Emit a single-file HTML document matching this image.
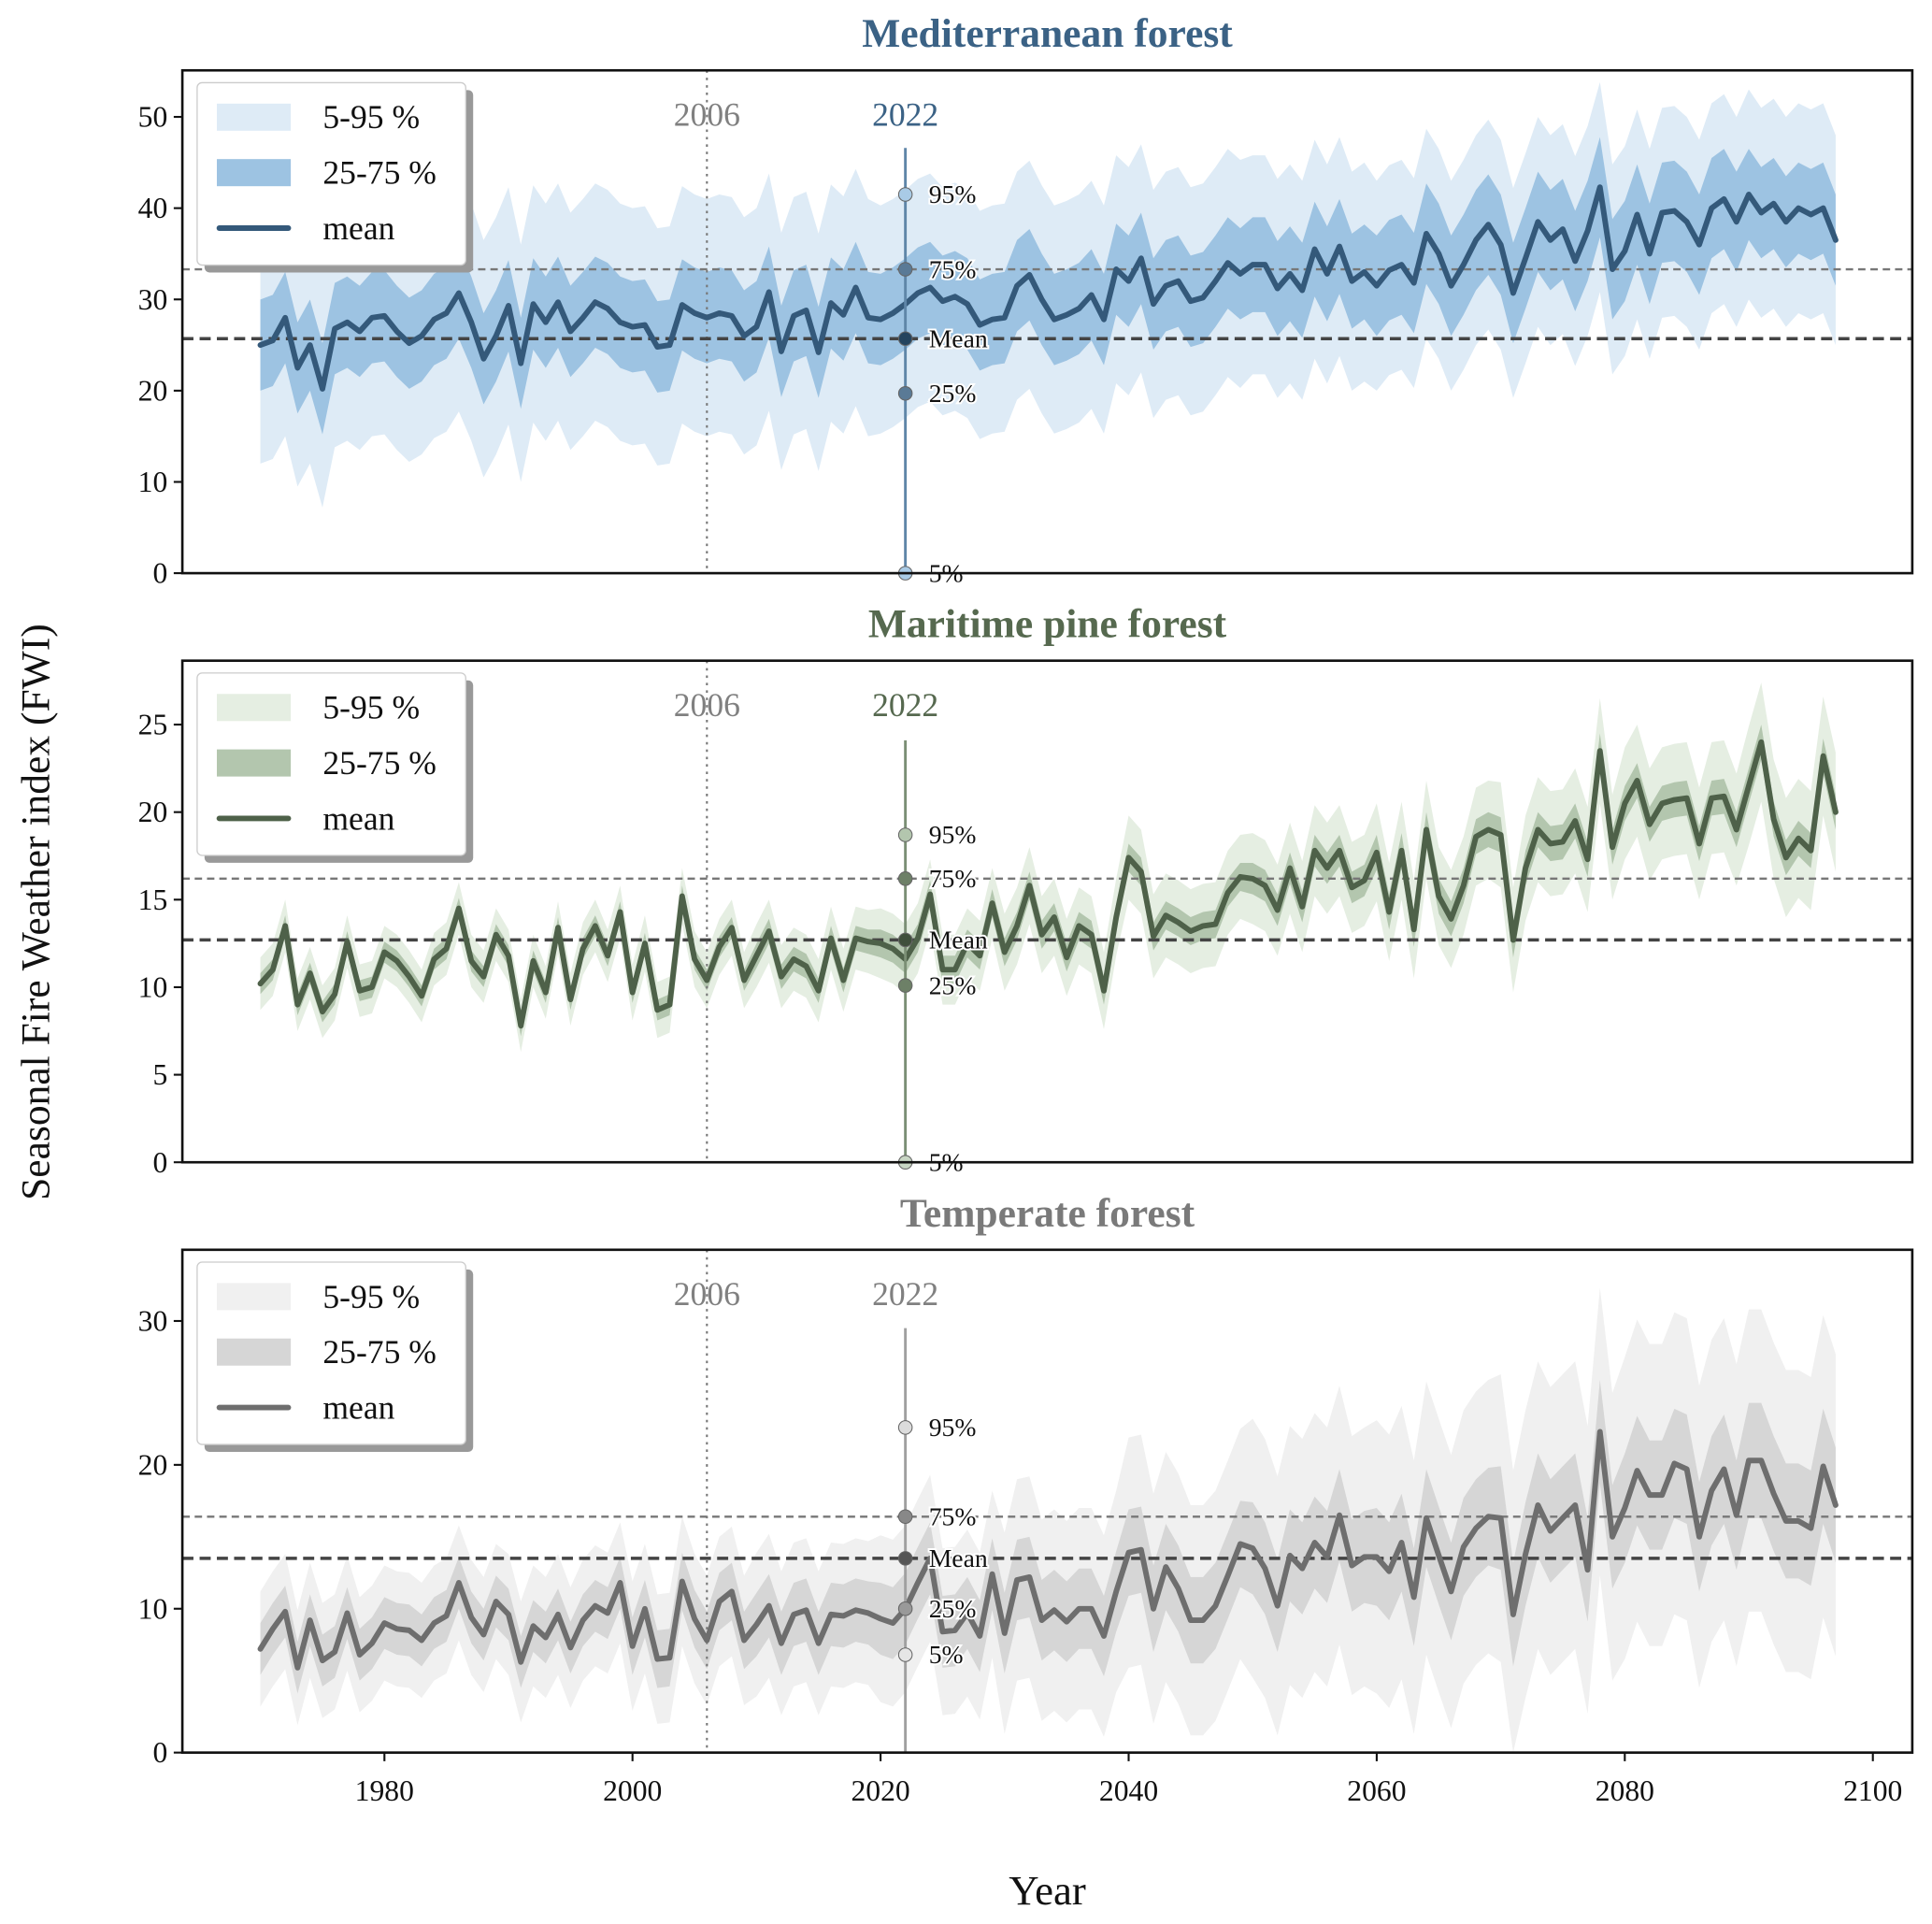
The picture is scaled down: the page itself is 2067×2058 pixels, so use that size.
<!DOCTYPE html>
<html><head><meta charset="utf-8">
<style>
html,body{margin:0;padding:0;background:#fff;}
svg{display:block;font-family:"Liberation Serif",serif;}
</style></head>
<body>
<svg id="chart" width="2067" height="2058" viewBox="0 0 1568 1561" xmlns="http://www.w3.org/2000/svg">
<rect x="0" y="0" width="1568" height="1561" fill="#fff"/>
<text x="0" y="0" transform="translate(40,740) rotate(-90)" text-anchor="middle" font-size="33" fill="#111">Seasonal Fire Weather index (FWI)</text>
<text x="850" y="1545" text-anchor="middle" font-size="34" fill="#111">Year</text>
</svg>
<script>
const years = [];
for (let y = 1970; y <= 2097; y++) years.push(y);
const meanMed = [25,25.5,28,22.5,25,20.2,26.8,27.5,26.5,28,28.2,26.5,25.2,26,27.8,28.5,30.7,27.5,23.5,26,29.3,23,29.5,27.5,29.7,26.5,28,29.7,29,27.5,27,27.2,24.8,25,29.4,28.5,28,28.5,28.2,26,27,30.8,24.3,28.2,28.8,24.2,29.6,28.3,31.3,28,27.8,28.5,29.5,30.7,31.3,29.8,30.3,29.5,27.2,27.8,28,31.5,32.7,30,27.8,28.3,29,30.5,27.8,33.3,32,34.5,29.5,31.5,32,29.8,30.2,32,34,32.8,33.8,33.8,31.2,32.8,31,35.5,32.8,35.8,32,33,31.5,33.2,33.8,31.8,37.2,35,31.5,33.8,36.5,38.2,36,30.7,34.5,38.5,36.5,37.7,34.2,37.5,42.3,33.3,35.3,39.3,35,39.5,39.7,38.5,36,40,41,38.5,41.5,39.5,40.5,38.5,40,39.3,40,36.5];
const meanMar = [10.2,11,13.5,9,10.8,8.6,9.6,12.6,9.8,10,12,11.5,10.6,9.5,11.6,12.2,14.5,11.5,10.6,13,11.8,7.8,11.5,9.7,13.4,9.3,12.2,13.5,11.8,14.3,9.7,12.5,8.7,9,15.2,11.6,10.4,12.3,13.4,10.4,11.8,13.2,10.6,11.6,11.2,9.8,12.8,10.4,12.8,12.6,12.5,12.2,11.6,12.8,15.3,11,11,12.5,11.8,14.8,12,13.5,15.8,13,14,11.7,13.5,13,9.8,14,17.4,16.6,12.9,14.1,13.7,13.2,13.5,13.6,15.4,16.3,16.2,15.8,14.4,16.8,14.6,17.8,16.8,17.8,15.7,16.1,17.7,14.3,17.8,13.3,19,15.2,13.9,15.8,18.6,19,18.7,12.7,16.8,19,18.2,18.3,19.5,17.3,23.5,18,20.5,21.8,19.3,20.5,20.7,20.8,18.2,20.8,20.9,19,21.5,24,19.6,17.4,18.5,17.8,23.2,20];
const meanTem = [7.2,8.6,9.8,5.9,9.2,6.4,7,9.7,6.8,7.6,9,8.6,8.5,7.8,9,9.5,11.8,9.4,8.2,10.5,9.6,6.3,8.8,8,9.6,7.3,9.2,10.2,9.7,11.8,7.4,10,6.5,6.6,11.9,9.3,7.8,10.5,11.2,7.8,8.9,10.2,7.6,9.6,9.9,7.6,9.6,9.5,9.9,9.7,9.3,9,10,11.8,13.5,8.4,8.5,9.7,8.1,12.4,8.3,12,12.2,9.2,9.9,9.1,10,10,8.1,11.2,13.9,14.1,10,12.9,11.4,9.2,9.2,10.2,12.3,14.5,14.2,12.8,10.2,13.7,12.8,14.6,13.6,16.5,13,13.6,13.6,12.6,14.6,10.8,16.3,13.7,11.2,14.3,15.6,16.4,16.3,9.6,13.8,17.2,15.4,16.3,17.2,12.7,22.3,15,17,19.6,17.9,17.9,20.1,19.7,15,18.2,19.7,16.5,20.3,20.3,18,16.1,16.1,15.6,19.9,17.2];
// per-decade band half-widths (1970s ... 2090s)
const iqrMed = [5,5,5,5,5,5,5,5,5.2,5.5,5.5,5.5,5];
const p90Med = [13,13,13,13,13,12.5,12.5,12.5,12,11.5,11.5,11.5,11.5];
const iqrMar = [0.6,0.6,0.6,0.6,0.7,0.8,0.8,0.8,0.9,1.0,1.0,1.0,1.0];
const p90Mar = [1.5,1.5,1.5,1.6,1.8,2,2.2,2.4,2.6,2.8,3,3.2,3.4];
const iqrTem = [1.8,1.8,1.8,2,2.2,2.5,2.8,3,3.2,3.4,3.6,3.8,4];
const p90Tem = [4,4,4.2,4.5,5,5.8,7,8,9,9.5,10,10.5,10.5];
const yTicksMed = [0,10,20,30,40,50];
const yTicksMar = [0,5,10,15,20,25];
const yTicksTem = [0,10,20,30];
const xTicks = [1980,2000,2020,2040,2060,2080,2100];
const refMed = {p5:0,p25:19.7,mean:25.7,p75:33.3,p95:41.5,top:46.6};
const refMar = {p5:0,p25:10.1,mean:12.7,p75:16.2,p95:18.7,top:24.1};
const refTem = {p5:6.8,p25:10,mean:13.5,p75:16.4,p95:22.6,top:29.5};

const NS = "http://www.w3.org/2000/svg";
const svg = document.getElementById('chart');
const X0 = 148, X1 = 1552;
const xs = v => 312 + (v - 1980) * (1208 / 120);
function mk(tag, attrs, parent) {
  const e = document.createElementNS(NS, tag);
  for (const k in attrs) e.setAttribute(k, attrs[k]);
  (parent || svg).appendChild(e);
  return e;
}
const panels = [
  {key:'mediterranean', title:'Mediterranean forest', top:57, bot:465, ymax:55.1, mean:meanMed, iqr:iqrMed, p90:p90Med, ticks:yTicksMed, ref:refMed,
   c:{line:'#34597a', iqr:'#9dc3e2', p90:'#deebf6', title:'#3b6285', vline:'#5f86a8', m95:'#a9cbe6', m75:'#5a7a96', mm:'#24445e', m25:'#5a7a96', m5:'#a9cbe6'}, bottomAxis:false},
  {key:'maritime', title:'Maritime pine forest', top:536, bot:943, ymax:28.65, mean:meanMar, iqr:iqrMar, p90:p90Mar, ticks:yTicksMar, ref:refMar,
   c:{line:'#4e6149', iqr:'#b3c6ae', p90:'#e5eee2', title:'#56694f', vline:'#7b8f75', m95:'#b3c6ae', m75:'#6d8067', mm:'#3f4f3b', m25:'#6d8067', m5:'#c8d6c4'}, bottomAxis:false},
  {key:'temperate', title:'Temperate forest', top:1014, bot:1422, ymax:34.95, mean:meanTem, iqr:iqrTem, p90:p90Tem, ticks:yTicksTem, ref:refTem,
   c:{line:'#6e6e6e', iqr:'#d6d6d6', p90:'#f0f0f0', title:'#7a7a7a', vline:'#a0a0a0', m95:'#dcdcdc', m75:'#888', mm:'#555', m25:'#999', m5:'#e6e6e6'}, bottomAxis:true}
];
panels.forEach(p => {
  const g = mk('g', {});
  
  
  const ys = v => p.bot - v * (p.bot - p.top) / p.ymax;
  const dec = i => Math.min(12, Math.floor(i / 10));
  function band(loF, hiF, fill, name) {
    let d = '';
    years.forEach((yr, i) => { d += (i ? 'L' : 'M') + xs(yr).toFixed(1) + ',' + ys(hiF(i)).toFixed(1); });
    for (let i = years.length - 1; i >= 0; i--) d += 'L' + xs(years[i]).toFixed(1) + ',' + ys(Math.max(0, loF(i))).toFixed(1);
    const e = mk('path', {d: d + 'Z', fill: fill}, g);
    
    
  }
  band(i => p.mean[i] - p.p90[dec(i)], i => p.mean[i] + p.p90[dec(i)], p.c.p90, p.key + '-band-5-95');
  band(i => p.mean[i] - p.iqr[dec(i)], i => p.mean[i] + p.iqr[dec(i)], p.c.iqr, p.key + '-band-25-75');
  const l06 = mk('line', {x1: xs(2006), x2: xs(2006), y1: p.top, y2: p.bot, stroke: '#777', 'stroke-width': 1.6, 'stroke-dasharray': '2,4'}, g);
  
  
  const r1 = mk('line', {x1: X0, x2: X1, y1: ys(p.ref.p75), y2: ys(p.ref.p75), stroke: '#777', 'stroke-width': 1.8, 'stroke-dasharray': '6,4'}, g);
  
  
  const r2 = mk('line', {x1: X0, x2: X1, y1: ys(p.ref.mean), y2: ys(p.ref.mean), stroke: '#444', 'stroke-width': 2.6, 'stroke-dasharray': '9,5'}, g);
  
  
  const pts = years.map((yr, i) => xs(yr).toFixed(1) + ',' + ys(p.mean[i]).toFixed(1)).join(' ');
  const ml = mk('polyline', {points: pts, fill: 'none', stroke: p.c.line, 'stroke-width': 4.5, 'stroke-linejoin': 'round', 'stroke-linecap': 'round'}, g);
  
  
  const x22 = xs(2022);
  const v22 = mk('line', {x1: x22, x2: x22, y1: ys(p.ref.top), y2: p.bot, stroke: p.c.vline, 'stroke-width': 2.2}, g);
  
  
  const marks = [['95%', p.ref.p95, p.c.m95], ['75%', p.ref.p75, p.c.m75], ['Mean', p.ref.mean, p.c.mm], ['25%', p.ref.p25, p.c.m25], ['5%', p.ref.p5, p.c.m5]];
  marks.forEach(m => {
    const c = mk('circle', {cx: x22, cy: ys(m[1]), r: 5.5, fill: m[2], stroke: '#666', 'stroke-width': 0.8}, g);
    
    
    const t = mk('text', {x: x22 + 19, y: ys(m[1]) + 7, 'font-size': 21, fill: '#111', stroke: '#fff', 'stroke-width': 3, 'paint-order': 'stroke'}, g);
    t.textContent = m[0];
    
    
  });
  const t06 = mk('text', {x: xs(2006), y: p.top + 45, 'font-size': 27, fill: '#808080', 'text-anchor': 'middle'}, g);
  t06.textContent = '2006';
  
  
  const t22 = mk('text', {x: x22, y: p.top + 45, 'font-size': 27, fill: p.key === 'temperate' ? '#808080' : p.c.title, 'text-anchor': 'middle'}, g);
  t22.textContent = '2022';
  
  
  const fr = mk('rect', {x: X0, y: p.top, width: X1 - X0, height: p.bot - p.top, fill: 'none', stroke: '#111', 'stroke-width': 2}, g);
  
  
  p.ticks.forEach(v => {
    const tk = mk('line', {x1: X0 - 7, x2: X0, y1: ys(v), y2: ys(v), stroke: '#111', 'stroke-width': 1.6}, g);
    
    
    const tl = mk('text', {x: X0 - 12, y: ys(v) + 8, 'font-size': 24, fill: '#111', 'text-anchor': 'end'}, g);
    tl.textContent = v;
    
    
  });
  if (p.bottomAxis) {
    xTicks.forEach(v => {
      const tk = mk('line', {x1: xs(v), x2: xs(v), y1: p.bot, y2: p.bot + 7, stroke: '#111', 'stroke-width': 1.6}, g);
      
      
      const tl = mk('text', {x: xs(v), y: p.bot + 39, 'font-size': 24, fill: '#111', 'text-anchor': 'middle'}, g);
      tl.textContent = v;
      
      
    });
  }
  const tt = mk('text', {x: 850, y: p.top - 19, 'font-size': 33, 'font-weight': 'bold', fill: p.c.title, 'text-anchor': 'middle'}, g);
  tt.textContent = p.title;
  
  
  const lg = mk('g', {}, g);
  
  
  const ly = p.top + 10;
  mk('rect', {x: 166, y: ly + 6, width: 218, height: 148, rx: 4, fill: '#999'}, lg);
  mk('rect', {x: 160, y: ly, width: 218, height: 148, rx: 4, fill: '#fff', stroke: '#ccc', 'stroke-width': 1}, lg);
  const items = [['5-95 %', 'box', p.c.p90], ['25-75 %', 'box', p.c.iqr], ['mean', 'line', p.c.line]];
  items.forEach((it, i) => {
    const cy = ly + 28 + i * 45;
    const e = it[1] === 'box'
      ? mk('rect', {x: 176, y: cy - 11, width: 60, height: 22, fill: it[2]}, lg)
      : mk('line', {x1: 178, x2: 234, y1: cy, y2: cy, stroke: it[2], 'stroke-width': 4.5, 'stroke-linecap': 'round'}, lg);
    
    
    const t = mk('text', {x: 262, y: cy + 9, 'font-size': 27, fill: '#111'}, lg);
    t.textContent = it[0];
    
    
  });
});
</script>
</body></html>
